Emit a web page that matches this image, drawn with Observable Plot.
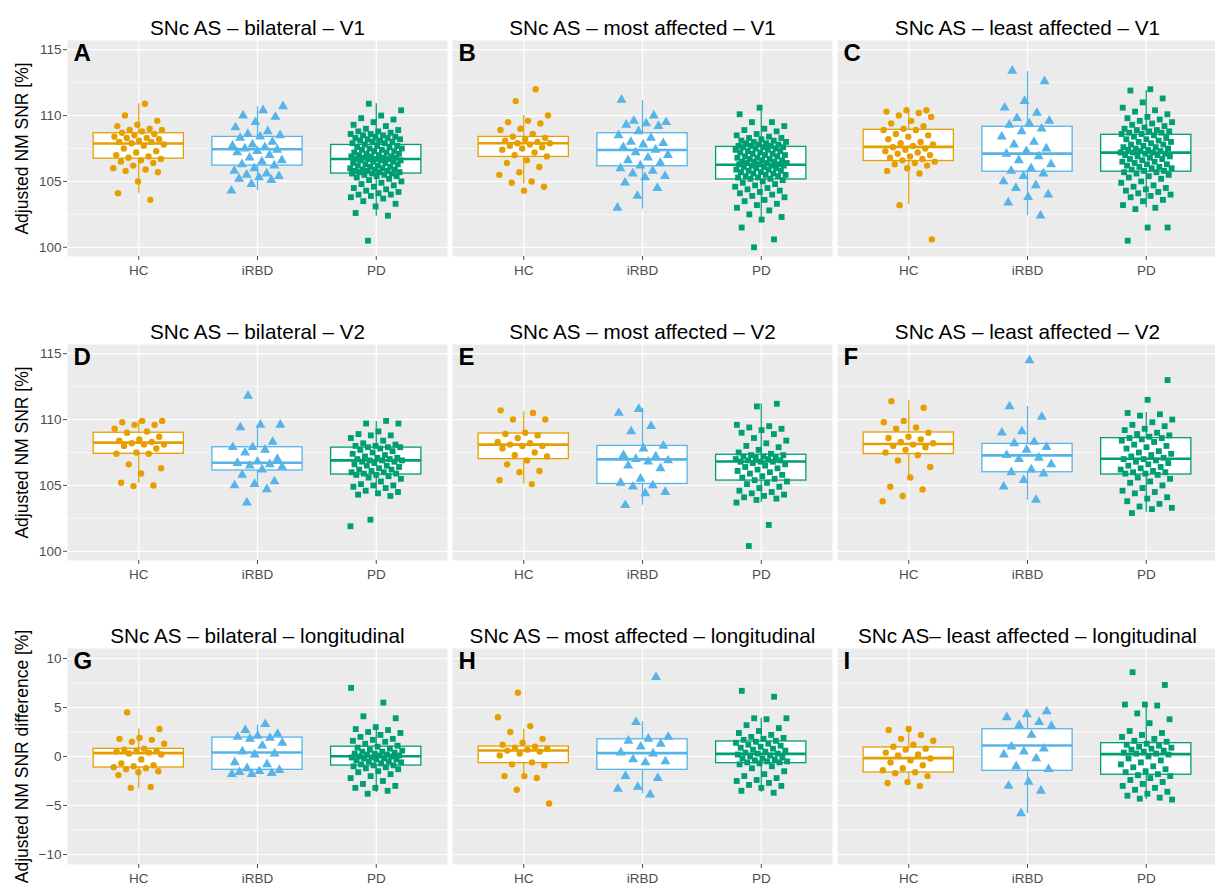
<!DOCTYPE html>
<html><head><meta charset="utf-8">
<script src="https://cdn.jsdelivr.net/npm/d3@7"></script>
<script src="https://cdn.jsdelivr.net/npm/@observablehq/plot@0.6"></script>
<style>
body{margin:0;background:#fff;}
#root{position:relative;width:1215px;height:887px;overflow:hidden;font-family:"Liberation Sans",Arial,sans-serif;background:#fff;}
#root svg{position:absolute;overflow:visible;background:none;}
</style></head><body><div id="root"></div>
<script>
// ---------- categories & labels ----------
const groups = ["HC", "iRBD", "PD"];
const colors = ["#E69F00", "#56B4E9", "#009E73"];
const symbols = ["circle", "triangle", "square"];
const titles = [
  "SNc AS – bilateral – V1", "SNc AS – most affected – V1", "SNc AS – least affected – V1",
  "SNc AS – bilateral – V2", "SNc AS – most affected – V2", "SNc AS – least affected – V2",
  "SNc AS – bilateral – longitudinal", "SNc AS – most affected – longitudinal", "SNc AS– least affected – longitudinal"
];
const letters = ["A","B","C","D","E","F","G","H","I"];
const yTitles = ["Adjusted NM SNR [%]", "Adjusted NM SNR [%]", "Adjusted NM SNR difference [%]"];
const snrTicks = [100, 105, 110, 115];
const snrMinor = [102.5, 107.5, 112.5];
const diffTicks = [-10, -5, 0, 5, 10];
const diffMinor = [-7.5, -2.5, 2.5, 7.5];

// ---------- values ----------
const A_HC = [110.9,110.0,109.6,109.3,109.2,109.0,108.9,108.9,108.8,108.7,108.6,108.5,108.4,108.3,108.3,108.2,108.1,108.0,108.0,107.9,107.8,107.7,107.5,107.3,107.2,107.0,106.9,106.8,106.7,106.6,106.5,106.4,106.2,106.0,105.9,105.8,105.7,105.0,104.1,103.6];
const A_iRBD = [110.7,110.4,110.0,109.9,109.5,109.1,108.8,108.6,108.5,108.4,108.3,108.0,107.8,107.7,107.6,107.5,107.4,107.3,107.2,107.0,106.8,106.6,106.5,106.3,106.2,106.0,105.8,105.6,105.5,105.4,105.3,105.2,105.1,104.8,104.3];
const A_PD = [110.9,110.4,110.0,109.8,109.7,109.5,109.3,109.2,109.0,108.9,108.8,108.8,108.7,108.6,108.6,108.5,108.5,108.4,108.4,108.3,108.3,108.2,108.2,108.1,108.1,108.0,108.0,107.9,107.9,107.8,
  107.7,107.7,107.6,107.6,107.5,107.5,107.4,107.4,107.3,107.3,107.2,107.2,107.1,107.1,107.0,107.0,106.9,106.9,106.9,106.8,106.8,106.8,106.7,106.7,106.7,106.7,106.6,106.6,106.6,106.5,
  106.5,106.4,106.4,106.3,106.3,106.2,106.2,106.1,106.1,106.0,106.0,105.9,105.9,105.9,105.8,105.8,105.8,105.7,105.7,105.7,105.6,105.6,105.6,105.5,105.5,105.4,105.4,105.3,105.2,105.1,
  105.0,104.9,104.8,104.7,104.6,104.5,104.4,104.3,104.2,104.1,104.0,104.0,103.9,103.8,103.7,103.5,103.3,103.1,102.6,102.4,100.5];

const B_HC = [112.0,111.1,110.0,109.6,109.5,109.4,109.0,108.9,108.6,108.4,108.3,108.2,108.1,108.0,107.9,107.9,107.8,107.7,107.6,107.5,107.4,107.2,107.0,106.9,106.6,106.4,106.1,105.7,105.5,105.0,104.9,104.6,104.3];
const B_iRBD = [111.2,110.0,109.6,109.5,109.4,109.3,109.2,108.8,108.5,108.3,108.0,107.9,107.8,107.6,107.4,107.2,107.0,106.8,106.6,106.4,106.2,106.0,105.8,105.6,105.4,105.3,104.9,104.5,103.9,103.0];
const B_PD = [110.6,110.1,109.5,109.5,109.2,109.0,108.9,108.8,108.6,108.5,108.4,108.3,108.3,108.2,108.1,108.1,108.0,108.0,107.9,107.9,107.8,107.8,107.7,107.7,107.7,107.6,107.6,107.6,107.5,107.5,
  107.4,107.4,107.3,107.3,107.2,107.2,107.1,107.1,107.0,107.0,106.9,106.9,106.8,106.8,106.7,106.7,106.6,106.6,106.5,106.5,106.5,106.4,106.4,106.4,106.3,106.3,106.3,106.2,106.2,106.2,
  106.1,106.1,106.0,106.0,105.9,105.9,105.8,105.8,105.7,105.7,105.6,105.6,105.5,105.5,105.4,105.4,105.3,105.3,105.2,105.2,105.1,105.0,104.9,104.8,104.7,104.6,104.5,104.4,104.3,104.2,
  104.1,104.0,103.9,103.8,103.6,103.5,103.3,103.2,103.0,102.8,102.5,102.3,102.1,101.5,100.6,100.0];

const C_HC = [110.4,110.4,110.3,110.2,110.0,109.9,109.6,109.4,109.2,109.0,108.9,108.9,108.6,108.5,108.4,108.2,108.0,107.9,107.8,107.7,107.6,107.5,107.4,107.3,107.2,107.1,107.0,106.9,106.8,106.7,106.6,106.5,106.4,106.3,106.2,106.0,105.8,105.6,103.2,100.6];
const C_iRBD = [113.4,112.6,111.1,110.6,110.2,109.8,109.6,109.4,109.3,109.0,108.8,108.4,108.0,107.8,107.5,107.3,107.1,106.9,106.6,106.3,106.0,105.8,105.6,105.4,105.0,104.7,104.5,104.0,103.8,103.4,102.4];
const C_PD = [112.0,111.9,111.3,111.0,110.6,110.4,110.3,110.1,109.9,109.8,109.7,109.6,109.5,109.4,109.3,109.2,109.1,109.0,108.9,108.9,108.8,108.8,108.7,108.7,108.6,108.6,
  108.5,108.4,108.3,108.2,108.2,108.1,108.0,108.0,107.9,107.8,107.8,107.7,107.6,107.6,107.5,107.5,107.4,107.4,107.3,107.3,107.2,107.2,107.2,107.1,107.1,
  107.0,107.0,106.9,106.9,106.8,106.7,106.7,106.6,106.5,106.5,106.4,106.3,106.3,106.2,106.1,106.1,106.0,106.0,105.9,105.8,105.8,105.7,105.7,105.6,105.5,
  105.4,105.3,105.2,105.0,104.9,104.7,104.6,104.5,104.4,104.3,104.2,104.1,104.0,103.9,103.8,103.6,103.5,103.2,103.0,102.9,101.5,101.5,100.5];

const D_HC = [109.9,109.9,109.8,109.6,109.6,109.3,109.1,109.0,108.7,108.5,108.4,108.3,108.2,108.1,108.1,108.0,107.8,107.5,107.4,107.4,106.6,106.3,105.9,105.2,105.0,104.95];
const D_iRBD = [111.8,109.6,109.6,109.4,108.3,107.9,107.9,107.7,107.5,107.0,106.8,106.7,106.6,106.5,106.4,106.2,105.8,105.3,105.1,105.0,104.7,103.7];
const D_PD = [109.9,109.7,109.7,109.1,108.9,108.8,108.8,108.6,108.4,108.2,108.1,108.0,108.0,107.9,107.9,107.9,
  107.8,107.7,107.6,107.5,107.4,107.3,107.2,107.1,107.1,107.0,107.0,106.9,106.9,106.9,106.8,106.8,106.7,
  106.6,106.5,106.5,106.4,106.3,106.2,106.2,106.1,106.0,106.0,105.9,105.9,105.8,105.8,105.7,105.6,105.5,
  105.3,105.1,105.0,105.0,104.9,104.8,104.6,104.5,104.4,104.3,104.2,102.4,101.9];

const E_HC = [110.7,110.5,110.0,110.0,109.0,108.9,108.8,108.6,108.3,108.2,108.1,108.0,108.0,107.8,107.5,107.3,107.2,106.9,106.6,106.1,106.0,105.4,105.1];
const E_iRBD = [110.8,110.5,109.5,109.1,108.0,107.8,107.3,107.2,107.0,106.9,106.8,106.5,106.3,105.5,105.2,105.0,104.9,104.5,104.4,103.5];
const E_PD = [111.2,111.0,109.6,109.5,109.4,109.3,109.2,109.0,108.9,108.6,108.4,108.2,108.0,107.9,107.7,107.5,107.4,
  107.3,107.3,107.2,107.2,107.1,107.1,107.0,107.0,106.9,106.9,106.8,106.8,106.8,
  106.7,106.6,106.5,106.4,106.3,106.2,106.1,106.0,105.9,105.8,105.7,105.6,105.5,105.4,
  105.3,105.2,105.1,104.9,104.8,104.6,104.5,104.4,104.3,104.2,104.1,104.0,103.9,103.7,102.0,100.4];

const F_HC = [111.4,110.9,109.9,109.8,109.4,109.3,109.0,108.7,108.6,108.5,108.3,108.2,108.1,108.0,107.9,107.7,107.5,107.3,106.9,106.4,105.6,104.9,104.7,104.2,103.8];
const F_iRBD = [114.5,111.0,110.2,109.1,109.0,108.3,108.2,107.9,107.7,107.3,107.1,107.0,106.6,106.2,106.0,105.9,105.4,104.9,103.9];
const F_PD = [113.0,111.5,110.5,110.4,110.3,110.0,109.8,109.6,109.5,109.3,109.2,109.0,108.9,108.8,108.7,108.6,108.6,
  108.5,108.4,108.3,108.1,108.0,107.9,107.8,107.6,107.5,107.4,107.3,107.2,107.1,107.0,107.0,
  106.9,106.8,106.7,106.6,106.5,106.4,106.3,106.2,106.1,106.0,106.0,105.9,105.9,105.8,
  105.6,105.5,105.3,105.2,105.0,104.8,104.6,104.5,104.4,104.1,104.0,103.8,103.6,103.4,103.3,103.2,102.9];

const G_HC = [4.5,2.8,1.9,1.8,1.7,1.5,1.3,0.8,0.7,0.6,0.6,0.5,0.4,0.3,0.2,-0.3,-0.7,-0.9,-1.0,-1.1,-1.2,-1.3,-1.5,-1.6,-1.9,-3.1,-3.2];
const G_iRBD = [3.3,2.7,2.3,2.1,2.0,1.9,1.8,1.4,1.1,0.5,0.3,0.2,-0.6,-0.8,-1.2,-1.4,-1.5,-1.6,-1.7,-1.8,-1.8];
const G_PD = [7.0,5.5,4.1,3.9,3.0,2.8,2.7,2.5,2.4,2.2,2.0,1.8,1.7,1.6,1.5,1.3,1.1,
  1.0,0.9,0.8,0.7,0.6,0.5,0.5,0.4,0.3,0.3,0.2,0.2,0.1,0.1,0.0,
  0.0,-0.1,-0.1,-0.2,-0.2,-0.3,-0.3,-0.4,-0.5,-0.5,-0.6,-0.7,-0.8,-0.9,-0.9,
  -1.0,-1.1,-1.2,-1.3,-1.5,-1.6,-1.8,-2.0,-2.2,-2.5,-2.8,-3.0,-3.2,-3.2,-3.5,-3.8];

const H_HC = [6.5,4.0,3.1,2.5,1.8,1.4,1.2,1.0,0.9,0.8,0.7,0.6,0.5,0.3,0.1,-0.6,-0.8,-0.9,-2.0,-2.0,-2.2,-3.4,-4.8];
const H_iRBD = [8.1,3.5,2.0,1.8,1.6,1.3,1.0,0.4,0.3,-0.3,-0.5,-0.6,-2.0,-2.2,-3.1,-3.3,-3.9];
const H_PD = [6.7,6.1,3.9,3.9,3.8,3.2,2.9,2.6,2.4,2.2,2.0,1.9,1.8,1.7,1.6,
  1.5,1.4,1.3,1.2,1.1,1.0,0.9,0.8,0.7,0.6,0.5,0.4,0.3,0.3,
  0.2,0.1,0.0,-0.1,-0.2,-0.2,-0.3,-0.4,-0.5,-0.5,-0.6,-0.6,-0.7,
  -0.8,-1.0,-1.2,-1.5,-1.8,-2.0,-2.2,-2.4,-2.5,-2.7,-2.9,-3.0,-3.2,-3.5,-3.7];

const I_HC = [2.8,2.7,2.2,1.8,1.6,1.2,1.0,0.8,0.7,0.4,0.2,0.1,-0.2,-0.4,-0.6,-0.9,-1.2,-1.4,-1.6,-1.7,-2.0,-2.6,-2.7,-3.0];
const I_iRBD = [4.6,4.3,4.0,3.5,3.2,3.1,2.2,1.0,0.8,0.5,0.2,-0.2,-1.0,-1.3,-2.6,-3.0,-3.5,-5.8];
const I_PD = [8.6,7.3,5.3,5.3,5.2,4.4,3.8,3.4,2.6,2.4,2.2,2.0,1.8,1.6,1.5,
  1.3,1.2,1.1,1.0,0.9,0.8,0.7,0.6,0.5,0.4,0.3,0.3,
  0.2,0.0,-0.2,-0.4,-0.6,-0.8,-1.0,-1.1,-1.3,-1.5,-1.6,-1.8,
  -1.9,-2.0,-2.2,-2.4,-2.6,-2.8,-3.0,-3.2,-3.4,-3.6,-3.8,-4.0,-4.2,-4.3,-4.4];

// box statistics per group: [q1, median, q3, lower whisker, upper whisker]
const A_box = [[106.73,107.88,108.66,104.1,110.9],[106.2,107.44,108.38,104.3,110.67],[105.6,106.7,107.77,102.35,110.9]];
const B_box = [[106.86,107.9,108.38,104.8,110.0],[106.15,107.39,108.66,102.9,111.13],[105.15,106.27,107.62,102.0,110.57]];
const C_box = [[106.55,107.62,108.92,103.25,110.37],[105.74,107.11,109.15,102.4,113.35],[105.74,107.19,108.54,103.0,111.9]];
const D_box = [[107.4,108.25,109.0,105.15,109.9],[106.13,106.72,107.9,104.85,109.45],[105.83,106.9,107.87,104.2,109.85]];
const E_box = [[107.0,108.1,108.94,105.1,110.6],[105.11,106.98,108.0,103.5,110.86],[105.37,106.82,107.33,103.7,111.19]];
const F_box = [[107.38,108.15,109.02,105.37,111.42],[106.0,107.28,108.15,103.88,111.0],[105.83,107.03,108.59,102.94,110.53]];
const G_box = [[-1.12,0.34,0.78,-3.3,2.8],[-1.36,0.41,1.93,-1.8,3.2],[-0.92,0.03,1.0,-3.7,3.0]];
const H_box = [[-0.68,0.61,1.02,-1.97,2.78],[-1.36,0.34,1.76,-3.83,3.56],[-0.68,0.27,1.53,-3.66,3.9]];
const I_box = [[-1.63,-0.17,0.92,-2.7,2.7],[-1.46,1.12,2.78,-5.83,4.41],[-1.86,0.24,1.36,-4.4,5.4]];

const panelValues = [
  [A_HC, A_iRBD, A_PD], [B_HC, B_iRBD, B_PD], [C_HC, C_iRBD, C_PD],
  [D_HC, D_iRBD, D_PD], [E_HC, E_iRBD, E_PD], [F_HC, F_iRBD, F_PD],
  [G_HC, G_iRBD, G_PD], [H_HC, H_iRBD, H_PD], [I_HC, I_iRBD, I_PD]
];
const panelBoxes = [A_box, B_box, C_box, D_box, E_box, F_box, G_box, H_box, I_box];

// ---------- layout ----------
const colLeft = [67, 452, 837];
const rowTop = [40, 344, 648];
const plotW = 380, plotH = 216;
const mTop = 40, mBottom = 32;
const BOXHALF = 0.38, JIT = 0.44;
const dotR = [3.2, 3.7, 3.3];

const root = document.getElementById("root");

for (let p = 0; p < 9; p++) {
  const row = Math.floor(p / 3), col = p % 3;
  const isDiff = row === 2;
  const yDomain = isDiff ? [-11.02, 11.02] : [99.3, 115.7];
  const major = isDiff ? diffTicks : snrTicks;
  const minor = isDiff ? diffMinor : snrMinor;
  const mLeft = col === 0 ? 67 : 6;
  const marks = [
    Plot.frame({fill: "#EBEBEB", stroke: "none"}),
    Plot.gridY(minor, {stroke: "white", strokeOpacity: 1, strokeWidth: 0.6}),
    Plot.gridY(major, {stroke: "white", strokeOpacity: 1, strokeWidth: 1.2}),
    Plot.gridX([0, 1, 2], {stroke: "white", strokeOpacity: 1, strokeWidth: 1.2})
  ];
  panelBoxes[p].forEach((b, g) => {
    const bd = [{g, q1: b[0], med: b[1], q3: b[2], lo: b[3], hi: b[4]}];
    marks.push(Plot.ruleX(bd, {x: "g", y1: "lo", y2: "hi", stroke: colors[g], strokeWidth: 1.2}));
    marks.push(Plot.rect(bd, {x1: d => d.g - BOXHALF, x2: d => d.g + BOXHALF, y1: "q1", y2: "q3", fill: "white", stroke: colors[g], strokeWidth: 1.3}));
    marks.push(Plot.ruleY(bd, {y: "med", x1: d => d.g - BOXHALF, x2: d => d.g + BOXHALF, stroke: colors[g], strokeWidth: 2.6}));
  });
  panelValues[p].forEach((vals, g) => {
    const pts = vals.map((v, k) => ({g, v, j: (((k + 1) * 0.6180339887 + g * 0.37 + p * 0.11) % 1 - 0.5) * JIT}));
    marks.push(Plot.dot(pts, {x: d => d.g + d.j, y: "v", symbol: symbols[g], fill: colors[g], r: dotR[g]}));
  });
  marks.push(Plot.axisX([0, 1, 2], {tickFormat: i => groups[i], tickSize: 4, tickPadding: 5, fontSize: 13.5, color: "#4D4D4D", label: null}));
  if (col === 0) {
    marks.push(Plot.axisY(major, {tickSize: 4, tickPadding: 2, fontSize: 13.5, color: "#4D4D4D", label: null}));
    marks.push(Plot.text([yTitles[row]], {frameAnchor: "left", textAnchor: "middle", dx: -45, rotate: -90, fontSize: 17.5, fill: "black"}));
  }
  marks.push(Plot.text([titles[p]], {frameAnchor: "top", textAnchor: "middle", dy: -20, fontSize: 20.7, fill: "black"}));
  marks.push(Plot.text([letters[p]], {frameAnchor: "top-left", dx: 6, dy: 3, textAnchor: "start", lineAnchor: "top", fontSize: 24, fontWeight: "bold", fill: "black"}));

  const svg = Plot.plot({
    width: mLeft + plotW,
    height: mTop + plotH + mBottom,
    marginLeft: mLeft, marginRight: 0, marginTop: mTop, marginBottom: mBottom,
    style: {fontFamily: '"Liberation Sans", Arial, sans-serif', background: "none", overflow: "visible"},
    x: {domain: [-0.6, 2.6], axis: null},
    y: {domain: yDomain, axis: null},
    marks
  });
  svg.style.left = (colLeft[col] - mLeft) + "px";
  svg.style.top = (rowTop[row] - mTop) + "px";
  root.appendChild(svg);
}
</script></body></html>
